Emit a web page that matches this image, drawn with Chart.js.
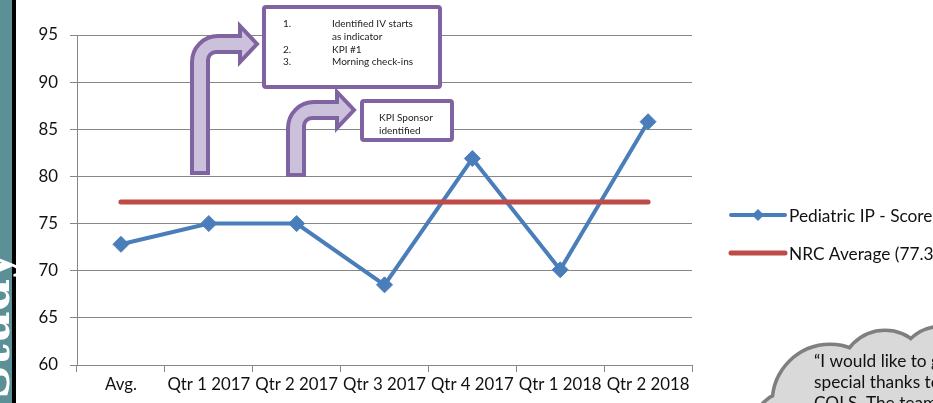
<!DOCTYPE html>
<html>
<head>
<meta charset="utf-8">
<script src="https://cdn.jsdelivr.net/npm/chart.js@4.4.1/dist/chart.umd.min.js"></script>
<style>
  html, body { margin: 0; padding: 0; background: #fff; overflow: hidden; }
  #wrap { position: relative; width: 933px; height: 403px; }
</style>
</head>
<body>
<div id="wrap"><canvas id="c" width="933" height="403"></canvas></div>
<script>
// data
const quarters = ['Avg.', 'Qtr 1 2017', 'Qtr 2 2017', 'Qtr 3 2017', 'Qtr 4 2017', 'Qtr 1 2018', 'Qtr 2 2018'];
const pedScore = [72.8, 75, 75, 68.5, 81.9, 70.1, 85.8];
const nrcAvg = [77.3, 77.3, 77.3, 77.3, 77.3, 77.3, 77.3];
const yTicks = [60, 65, 70, 75, 80, 85, 90, 95];

const box1Lines = ['Identified IV starts', 'as indicator', 'KPI #1', 'Morning check-ins'];
const box2Lines = ['KPI Sponsor', 'identified'];
const cloudLines = ['\u201CI would like to give a', 'special thanks to the', 'COLS. The team'];

const FONT = 'Lato, "Noto Sans", sans-serif';
const GRID = '#878787';
const BLUE = '#4a7ebb';
const RED = '#be4b48';
const PURPLE = '#8064a2';
const LILAC = '#ccc1da';

// bent "up then right" arrow
function bentArrow(ctx, sx, sw, by, cy, tipX, headX, headH) {
    const half = sw / 2;
    const r = 26;
    ctx.beginPath();
    ctx.moveTo(sx, by);
    ctx.lineTo(sx, cy - half + r);
    ctx.arcTo(sx, cy - half, sx + r, cy - half, r);
    ctx.lineTo(headX, cy - half);
    ctx.lineTo(headX, cy - headH);
    ctx.lineTo(tipX, cy);
    ctx.lineTo(headX, cy + headH);
    ctx.lineTo(headX, cy + half);
    const ri = 8;
    ctx.lineTo(sx + sw + ri, cy + half);
    ctx.arcTo(sx + sw, cy + half, sx + sw, cy + half + ri, ri);
    ctx.lineTo(sx + sw, by);
    ctx.closePath();
    ctx.fillStyle = LILAC;
    ctx.fill();
    ctx.lineWidth = 4;
    ctx.lineJoin = 'miter';
    ctx.strokeStyle = PURPLE;
    ctx.stroke();
}

function roundBox(ctx, x, y, w, h) {
    ctx.beginPath();
    ctx.roundRect(x, y, w, h, 2);
    ctx.fillStyle = '#fff';
    ctx.fill();
    ctx.lineWidth = 4;
    ctx.strokeStyle = PURPLE;
    ctx.stroke();
}

const decor = {
    id: 'decor',
    afterDraw(chart) {
        const ctx = chart.ctx;
        ctx.save();

        // left side banner
        ctx.fillStyle = '#5b9097';
        ctx.fillRect(0, 0, 12, 403);
        ctx.fillStyle = '#000';
        ctx.fillRect(12, 0, 4, 403);
        ctx.save();
        ctx.translate(9, 252);
        ctx.rotate(-Math.PI / 2);
        ctx.font = 'bold 46px "DejaVu Serif", serif';
        ctx.fillStyle = '#fff';
        ctx.textAlign = 'right';
        ctx.textBaseline = 'alphabetic';
        ctx.fillText('Study', 0, 0);
        ctx.restore();

        // arrows and callout boxes
        bentArrow(ctx, 192, 16, 173, 44, 257, 240, 18);
        bentArrow(ctx, 288, 16, 175, 110, 354, 337, 18);
        roundBox(ctx, 264, 7, 176, 80);
        roundBox(ctx, 362, 101, 90, 39);

        ctx.fillStyle = '#222';
        ctx.font = '10px ' + FONT;
        ctx.textBaseline = 'middle';
        ctx.textAlign = 'left';
        ctx.fillText('1.', 283, 24);
        ctx.fillText(box1Lines[0], 332, 24);
        ctx.fillText(box1Lines[1], 332, 37);
        ctx.fillText('2.', 283, 50);
        ctx.fillText(box1Lines[2], 332, 50);
        ctx.fillText('3.', 283, 62);
        ctx.fillText(box1Lines[3], 332, 62);
        ctx.fillText(box2Lines[0], 379, 118);
        ctx.fillText(box2Lines[1], 379, 131);

        // legend, drawn from the datasets
        const legendY = [215, 253];
        chart.data.datasets.forEach((ds, i) => {
            const y = legendY[i];
            ctx.beginPath();
            ctx.moveTo(731, y);
            ctx.lineTo(785, y);
            ctx.lineWidth = ds.borderWidth;
            ctx.lineCap = 'round';
            ctx.strokeStyle = ds.borderColor;
            ctx.stroke();
            if (ds.pointRadius > 0) {
                ctx.beginPath();
                ctx.moveTo(758, y - 6);
                ctx.lineTo(764, y);
                ctx.lineTo(758, y + 6);
                ctx.lineTo(752, y);
                ctx.closePath();
                ctx.fillStyle = ds.borderColor;
                ctx.fill();
            }
            ctx.fillStyle = '#111';
            ctx.font = '17.3px ' + FONT;
            ctx.textAlign = 'left';
            ctx.textBaseline = 'middle';
            ctx.fillText(ds.label, 789, y + 1);
        });

        // thought cloud
        const circles = [[830, 402, 56], [885, 375, 43], [942, 372, 44], [790, 428, 35], [900, 420, 40]];
        ctx.lineWidth = 7;
        ctx.strokeStyle = '#7f7f7f';
        circles.forEach(c => { ctx.beginPath(); ctx.arc(c[0], c[1], c[2], 0, Math.PI * 2); ctx.stroke(); });
        ctx.fillStyle = '#d9d9d9';
        circles.forEach(c => { ctx.beginPath(); ctx.arc(c[0], c[1], c[2], 0, Math.PI * 2); ctx.fill(); });
        ctx.fillStyle = '#111';
        ctx.font = '17.3px ' + FONT;
        ctx.textBaseline = 'middle';
        cloudLines.forEach((t, i) => ctx.fillText(t, 814, 361 + i * 21));

        ctx.restore();
    }
};

new Chart(document.getElementById('c'), {
    type: 'line',
    data: {
        labels: quarters,
        datasets: [
            {
                label: 'Pediatric IP - Score',
                data: pedScore,
                borderColor: BLUE,
                backgroundColor: BLUE,
                borderWidth: 4,
                pointStyle: 'rectRot',
                pointRadius: 8,
                pointBorderWidth: 1,
                tension: 0,
                order: 2
            },
            {
                label: 'NRC Average (77.3)',
                data: nrcAvg,
                borderColor: RED,
                backgroundColor: RED,
                borderWidth: 5,
                borderCapStyle: 'round',
                pointRadius: 0,
                tension: 0,
                order: 1
            }
        ]
    },
    options: {
        responsive: false,
        devicePixelRatio: 1,
        animation: false,
        layout: { padding: { left: 0, right: 241, top: 35, bottom: 0 } },
        plugins: { legend: { display: false }, tooltip: { enabled: false } },
        scales: {
            x: {
                offset: true,
                grid: { offset: true, drawOnChartArea: false, color: GRID, tickLength: 7 },
                border: { color: GRID, width: 1 },
                ticks: { color: '#111', font: { family: FONT, size: 16.8 }, padding: 3, maxRotation: 0, autoSkip: false },
                afterFit(s) { s.height = 38; }
            },
            y: {
                min: 60,
                max: 95,
                afterBuildTicks(s) { s.ticks = yTicks.map(v => ({ value: v })); },
                grid: { color: GRID, tickLength: 7 },
                border: { color: GRID, width: 1 },
                ticks: { color: '#111', font: { family: FONT, size: 16.8 }, padding: 12 },
                afterFit(s) { s.width = 77; }
            }
        }
    },
    plugins: [decor]
});
</script>
</body>
</html>
